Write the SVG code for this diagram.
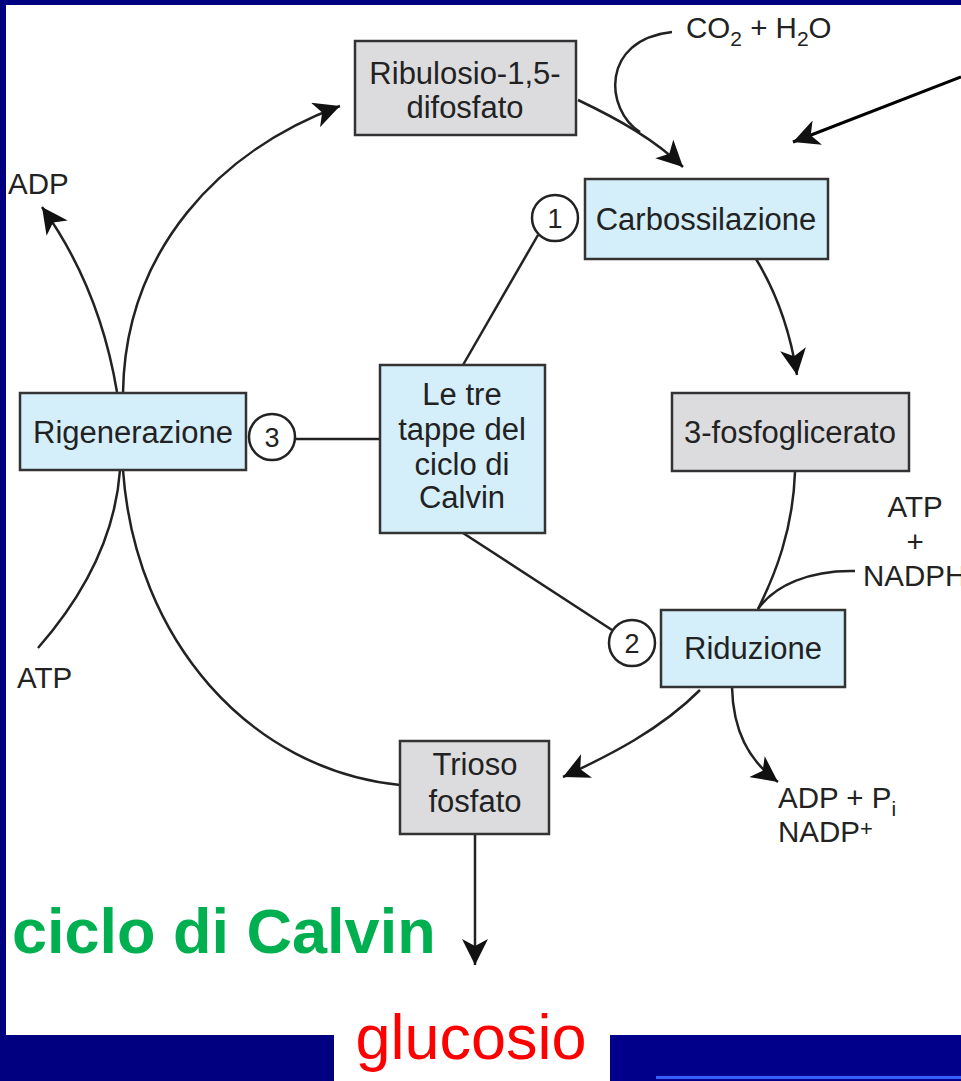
<svg xmlns="http://www.w3.org/2000/svg" width="961" height="1081" viewBox="0 0 961 1081">
<defs>
<style>
.t{font-family:"Liberation Sans",Arial,sans-serif;fill:#222;}
.bx{font-size:31px;text-anchor:middle;}
.lb{font-size:29.5px;}
.blue{fill:#d4eefa;stroke:#333;stroke-width:2.5;}
.gray{fill:#dcdcdf;stroke:#333;stroke-width:2.5;}
.c{fill:#fff;stroke:#222;stroke-width:2.5;}
.ln{fill:none;stroke:#222;stroke-width:2.5;}
</style>
<marker id="ah" markerUnits="userSpaceOnUse" markerWidth="28" markerHeight="26" refX="26" refY="13" orient="auto">
<path d="M0,0 L26,13 L0,26 L7,13 z" fill="#111"/>
</marker>
</defs>
<rect x="0" y="0" width="961" height="1081" fill="#fff"/>
<rect x="0" y="0" width="961" height="5" fill="#000080"/>
<rect x="0" y="0" width="6" height="1081" fill="#000080"/>
<rect x="0" y="1035" width="334" height="46" fill="#000080"/>
<rect x="610" y="1035" width="351" height="46" fill="#00008a"/>
<rect x="656" y="1076" width="305" height="3" fill="#3a5cff"/>

<g id="connectors">
<path class="ln" d="M123,393 C125,250 220,150 340,106" marker-end="url(#ah)"/>
<path class="ln" d="M117,392 C105,320 80,260 42,207" marker-end="url(#ah)"/>
<path class="ln" d="M38,648 C80,600 115,540 120,470"/>
<path class="ln" d="M123,470 C135,640 250,770 400,785"/>
<path class="ln" d="M578,100 C620,120 655,140 683,167" marker-end="url(#ah)"/>
<path class="ln" d="M672,32 C600,40 605,110 640,132"/>
<path class="ln" d="M756,259 C775,290 790,330 797,375" marker-end="url(#ah)"/>
<path class="ln" d="M795,472 C793,530 775,575 758,609"/>
<path class="ln" d="M855,571 C810,570 775,585 758,609"/>
<path class="ln" d="M732,687 C733,730 748,760 778,782" marker-end="url(#ah)"/>
<path class="ln" d="M700,690 C660,730 610,755 563,777" marker-end="url(#ah)"/>
<path class="ln" d="M475,834 L475,965" marker-end="url(#ah)"/>
<path d="M961,77 L793,142" fill="none" stroke="#000" stroke-width="3" marker-end="url(#ah)"/>
<path class="ln" d="M538,235 L463,365"/>
<path class="ln" d="M296,439 L380,439"/>
<path class="ln" d="M463,533 L612,630"/>
</g>

<g id="ribulosio">
<rect class="gray" x="355" y="41" width="221" height="94"/>
<text class="t bx" x="465" y="84">Ribulosio-1,5-</text>
<text class="t bx" x="465" y="118">difosfato</text>
</g>
<g id="carbossilazione">
<rect class="blue" x="585" y="179" width="243" height="80"/>
<text class="t bx" x="706" y="230">Carbossilazione</text>
</g>
<g id="c1">
<circle class="c" cx="555" cy="218" r="23"/>
<text class="t" x="555" y="228" font-size="27" text-anchor="middle">1</text>
</g>
<g id="fosfoglicerato">
<rect class="gray" x="672" y="393" width="237" height="78"/>
<text class="t bx" x="790" y="443">3-fosfoglicerato</text>
</g>
<g id="riduzione">
<rect class="blue" x="661" y="610" width="184" height="77"/>
<text class="t bx" x="753" y="659">Riduzione</text>
</g>
<g id="c2">
<circle class="c" cx="632" cy="643" r="23"/>
<text class="t" x="632" y="653" font-size="27" text-anchor="middle">2</text>
</g>
<g id="trioso">
<rect class="gray" x="400" y="741" width="149" height="93"/>
<text class="t bx" x="475" y="775">Trioso</text>
<text class="t bx" x="475" y="812">fosfato</text>
</g>
<g id="tappe">
<rect class="blue" x="380" y="365" width="165" height="168"/>
<text class="t bx" x="462" y="405">Le tre</text>
<text class="t bx" x="462" y="440">tappe del</text>
<text class="t bx" x="462" y="475">ciclo di</text>
<text class="t bx" x="462" y="508">Calvin</text>
</g>
<g id="rigenerazione">
<rect class="blue" x="20" y="393" width="226" height="77"/>
<text class="t bx" x="133" y="443">Rigenerazione</text>
</g>
<g id="c3">
<circle class="c" cx="272" cy="437" r="23"/>
<text class="t" x="272" y="447" font-size="27" text-anchor="middle">3</text>
</g>

<g id="labels">
<text class="t lb" x="686" y="38">CO<tspan font-size="21" dy="8">2</tspan><tspan dy="-8"> + H</tspan><tspan font-size="21" dy="8">2</tspan><tspan dy="-8">O</tspan></text>
<text class="t lb" x="8" y="194">ADP</text>
<text class="t lb" x="17" y="688">ATP</text>
<text class="t lb" x="915" y="517" text-anchor="middle">ATP</text>
<text class="t lb" x="915" y="552" text-anchor="middle">+</text>
<text class="t lb" x="863" y="586">NADPH</text>
<text class="t lb" x="778" y="808">ADP + P<tspan font-size="21" dy="8">i</tspan></text>
<text class="t lb" x="778" y="842">NADP<tspan font-size="22" dy="-6">+</tspan></text>
</g>

<text x="12" y="953" font-family="Liberation Sans,Arial,sans-serif" font-weight="bold" font-size="63" fill="#00b050">ciclo di Calvin</text>
<text x="471" y="1059" font-family="Liberation Sans,Arial,sans-serif" font-size="63" fill="#ff0000" text-anchor="middle">glucosio</text>
</svg>
